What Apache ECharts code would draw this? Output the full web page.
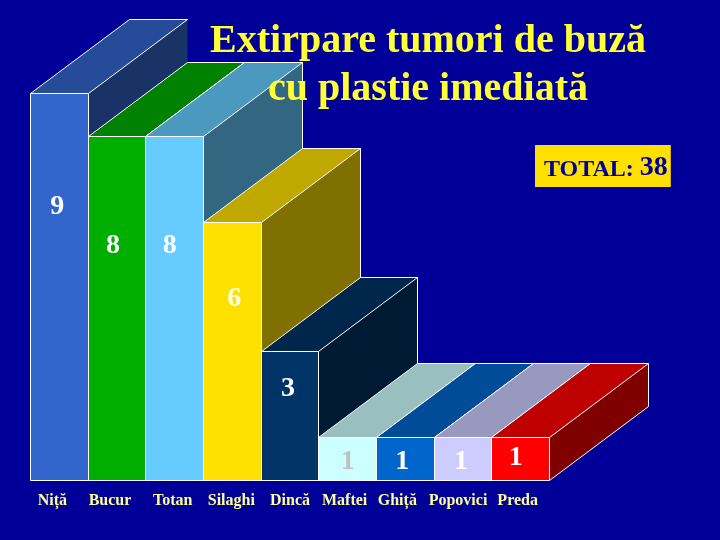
<!DOCTYPE html>
<html><head><meta charset="utf-8">
<style>html,body{margin:0;padding:0;background:#000099}#c{width:720px;height:540px}</style>
<script src="https://cdn.jsdelivr.net/npm/echarts@6/dist/echarts.min.js"></script>
</head><body><div id="c"></div>
<script>
const categories = ['Niță','Bucur','Totan','Silaghi','Dincă','Maftei','Ghiță','Popovici','Preda'];
const values = [9,8,8,6,3,1,1,1,1];
const titleText = 'Extirpare tumori de buză\ncu plastie imediată';
const frontColors = ['#3366CC','#00AE00','#66CCFF','#FFE100','#003366','#CCFFFF','#0066CC','#CCCCFF','#FF0000'];
const topColors   = ['#264C99','#008200','#4C99BF','#BFA800','#00264C','#99BFBF','#004C99','#9999BF','#BF0000'];
const sideColors  = ['#1A3366','#005700','#336680','#807000','#001A33','#668080','#003366','#666680','#800000'];
const labelColors = ['#FFFFFF','#FFFFFF','#FFFFFF','#FFFFE8','#FFFFFF','#C0C0C0','#FFFFFF','#FFFFFF','#FFFFFF'];
const labelDown = [113,109,109,76,37,24,24,24,20];
const labelShift = [-2,-4,-5,2,-2,0,-3,-2,-5];
const catShift = [-7,-7,-2,-1,0,-3,-8,-5,-3];
const DX = 98.6, DY = -74.2, LINE = '#FFFFFF';
const snap = v => Math.floor(v+1e-6)+0.5;

function renderBar(params, api){
  const i = params.dataIndex;
  const v = api.value(1);
  const top = api.coord([i, v]);
  const base = api.coord([i, 0]);
  const w = api.size([1,0])[0];
  const x0 = snap(top[0]-w/2), x1 = snap(top[0]+w/2), yT = snap(top[1]), yB = snap(base[1]);
  const bx0 = snap(x0+DX), bx1 = snap(x1+DX), byT = snap(yT+DY), byB = snap(yB+DY);
  const edge = {stroke:LINE, lineWidth:1, fill:null};
  const children = [
    {type:'polygon', shape:{points:[[x1,yT],[bx1,byT],[bx1,byB],[x1,yB]]}, style:{fill:sideColors[i]}},
    {type:'polygon', shape:{points:[[x0,yT],[x1,yT],[bx1,byT],[bx0,byT]]}, style:{fill:topColors[i]}},
    {type:'rect', shape:{x:x0,y:yT,width:x1-x0,height:yB-yT}, style:{fill:frontColors[i],stroke:LINE,lineWidth:1}},
    {type:'polyline', shape:{points:[[x0,yT],[bx0,byT],[bx1,byT],[x1,yT]]}, style:edge}
  ];
  if(i>0){
    children.push({type:'polyline', shape:{points:[[bx1,byT],[bx1,byB],[x1,yB]]}, style:edge});
  }
  children.push({type:'text', style:{x:top[0]+labelShift[i], y:yT+labelDown[i], text:String(v), fill:labelColors[i],
    font:'bold 28px "Liberation Serif"', align:'center', verticalAlign:'middle'}});
  return {type:'group', children};
}

const chart = echarts.init(document.getElementById('c'));
chart.setOption({
  animation:false,
  backgroundColor:'#000099',
  title:[
    {text:titleText, left:423, top:13, textAlign:'center', z:10,
     textStyle:{color:'#FFFF33', fontFamily:'Liberation Serif', fontWeight:'bold', fontSize:40, lineHeight:48,
       textShadowColor:'#000044', textShadowOffsetX:1, textShadowOffsetY:1, textShadowBlur:0}},
    {text:'{a|TOTAL: }{b|38}', left:535, top:139, z:10, backgroundColor:'#FFE100', padding:[9,3,5,9], itemGap:0,
     textStyle:{rich:{
       a:{color:'#000099', fontFamily:'Liberation Serif', fontWeight:'bold', fontSize:24, lineHeight:34, verticalAlign:'bottom'},
       b:{color:'#000099', fontFamily:'Liberation Serif', fontWeight:'bold', fontSize:28, lineHeight:34, verticalAlign:'bottom'}}}}
  ],
  grid:{left:30.5, width:519, top:93.5, height:387, containLabel:false},
  xAxis:{type:'category',
    data:categories.map((c,i)=>({value:c, textStyle:{padding: catShift[i]<0 ? [0,-2*catShift[i],0,0] : [0,0,0,2*catShift[i]]}})),
    axisLine:{show:false}, axisTick:{show:false},
    axisLabel:{interval:0, color:'#FFFF99', fontFamily:'Liberation Serif', fontWeight:'bold', fontSize:16, margin:12.5}},
  yAxis:{type:'value', min:0, max:9, interval:1, show:false, splitLine:{show:false}},
  series:[{type:'custom', renderItem:renderBar, clip:false,
    encode:{x:0,y:1}, data:values.map((v,i)=>[i,v])}]
});
</script></body></html>
